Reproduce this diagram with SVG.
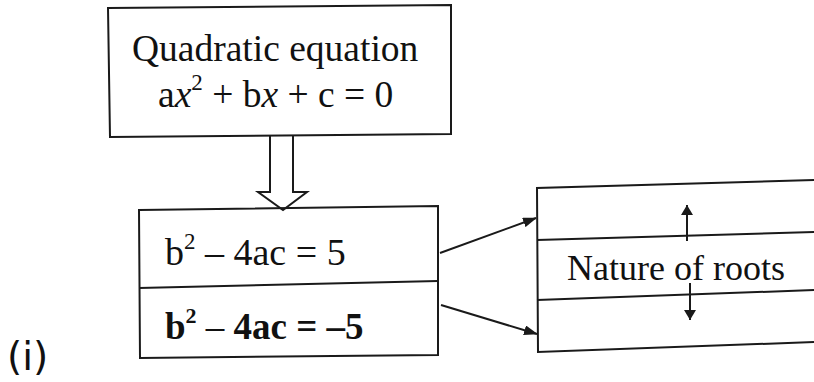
<svg xmlns="http://www.w3.org/2000/svg" width="814" height="382" viewBox="0 0 814 382">
<style>
.box{fill:none;stroke:#1a1a1a;stroke-width:2}
.ln{stroke:#1a1a1a;stroke-width:2;fill:none}
.t{font-family:"Liberation Serif","Times New Roman",serif;fill:#111}
.s{font-family:"DejaVu Sans","Liberation Sans",sans-serif;fill:#111}
</style>
<defs>
<marker id="ah" markerWidth="14" markerHeight="10" refX="13" refY="5" orient="auto" markerUnits="userSpaceOnUse">
<path d="M0,0 L14,5 L0,10 Z" fill="#1a1a1a"/>
</marker>
<marker id="sh" markerWidth="10" markerHeight="12" refX="10" refY="6" orient="auto" markerUnits="userSpaceOnUse">
<path d="M0,0 L10,6 L0,12 Z" fill="#1a1a1a"/>
</marker>
</defs>
<rect width="814" height="382" fill="#ffffff"/>
<g id="quadratic">
<path class="box" d="M108,8 L451,5 L451,134 L110,137 Z"/>
<text class="t" x="132" y="61" font-size="37.5">Quadratic equation</text>
<text class="t" x="158" y="107" font-size="37.5">a<tspan font-style="italic">x</tspan><tspan font-size="23" dy="-17">2</tspan><tspan dy="17"> + b</tspan><tspan font-style="italic">x</tspan> + c = 0</text>
</g>
<g id="discriminant">
<path class="box" d="M139,210 L438,206 L438,355 L140,358 Z"/>
<line class="ln" x1="139" y1="288" x2="438" y2="281"/>
<text class="t" x="165" y="265" font-size="38">b<tspan font-size="23" dy="-16">2</tspan><tspan dy="16"> – 4ac = 5</tspan></text>
<text class="t" x="165" y="339" font-size="37" font-weight="bold">b<tspan font-size="22" dy="-16">2</tspan><tspan dy="16" font-weight="normal"> – </tspan><tspan>4ac = –5</tspan></text>
</g>
<g id="nature">
<path class="ln" d="M814,180 L537,188 L538,352 L814,342"/>
<line class="ln" x1="537" y1="240" x2="814" y2="232"/>
<line class="ln" x1="537" y1="300" x2="814" y2="290"/>
<text class="t" x="567" y="280" font-size="36">Nature of roots</text>
<line class="ln" x1="687" y1="241" x2="687" y2="205" marker-end="url(#sh)" stroke-width="1.5"/>
<line class="ln" x1="690" y1="283" x2="690" y2="320" marker-end="url(#sh)" stroke-width="1.5"/>
</g>
<g id="connectors">
<path class="ln" d="M270,136 L270,192 L258,192 L283,210 L307,192 L293,192 L293,136" stroke-width="1.8" fill="#fff"/>
<line class="ln" x1="440" y1="253" x2="536" y2="218" marker-end="url(#ah)"/>
<line class="ln" x1="441" y1="305" x2="537" y2="334" marker-end="url(#ah)"/>
</g>
<text class="s" x="7" y="370" font-size="39">(i)</text>
</svg>
